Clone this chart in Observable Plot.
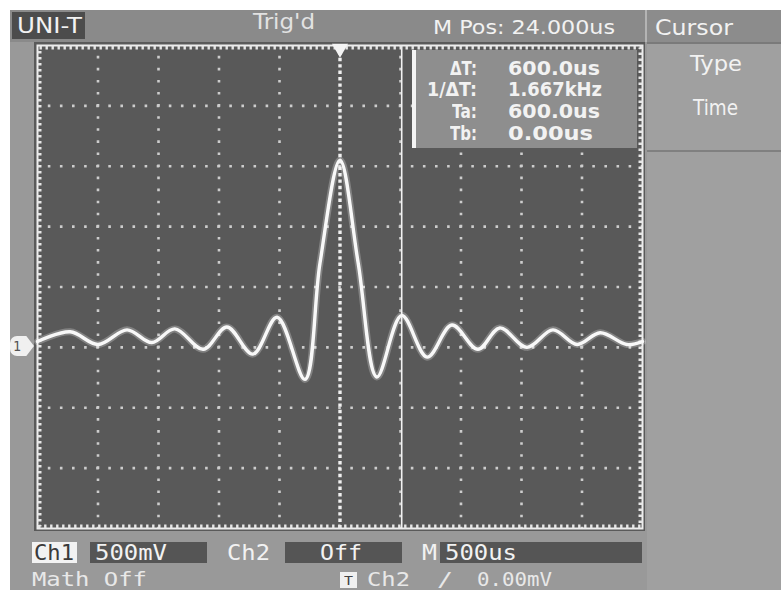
<!DOCTYPE html>
<html><head><meta charset="utf-8">
<script src="https://cdn.jsdelivr.net/npm/d3@7"></script>
<script src="https://cdn.jsdelivr.net/npm/@observablehq/plot@0.6"></script>
<style>
html,body{margin:0;padding:0;background:#fff;}
#scope{position:relative;width:781px;height:590px;overflow:hidden;background:#fff;}
.blk{position:absolute;}
.t{position:absolute;white-space:nowrap;font-family:"DejaVu Sans",sans-serif;transform-origin:0 50%;color:#f2f2f2;}
#plotwrap{position:absolute;}
</style></head><body>
<div id="scope"></div>
<script>
// ---- Channel 1 trace (time in µs, voltage in mV) ----
const timeUs = [-2500,-2230,-2000,-1760,-1555,-1365,-1130,-935,-720,-520,-290,-165,0,150,305,510,720,925,1140,1320,1545,1760,1960,2150,2370,2500];
const ch1mV  = [48,129,24,145,40,153,-16,169,-56,250,-265,700,1550,700,-245,265,-81,185,-16,161,0,145,24,121,24,48];
// ---- graticule (500 µs/div, 500 mV/div) ----
const gridTimeUs = [-2500,-2000,-1500,-1000,-500,0,500,1000,1500,2000,2500];
const gridVoltMv = [-1500,-1000,-500,0,500,1000,1500,2000,2500];
// ---- cursors / markers ----
const cursorTaUs = [510];
const cursorTbUs = [0];
const trigPosUs = [0];
// ---- readouts ----
const cursorLabels = ["ΔT:", "1/ΔT:", "Ta:", "Tb:"];
const cursorValues = ["600.0us", "1.667kHz", "600.0us", "0.00us"];
const menuItems = ["Type", "Time"];

const root = document.getElementById("scope");
function box(l,t,w,h,bg,extra){const d=document.createElement("div");d.className="blk";Object.assign(d.style,{left:l+"px",top:t+"px",width:w+"px",height:h+"px",background:bg},extra||{});root.appendChild(d);return d;}
function txt(s,l,cy,size,w,opt={}){
  const d=document.createElement("div");d.className="t";d.textContent=s;
  d.style.fontSize=size+"px";d.style.lineHeight=size+"px";d.style.top=(cy-size*0.48)+"px";d.style.left=l+"px";
  if(opt.color)d.style.color=opt.color; if(opt.weight)d.style.fontWeight=opt.weight; if(opt.family)d.style.fontFamily=opt.family;
  root.appendChild(d);
  const aw=d.getBoundingClientRect().width;
  if(opt.right) d.style.left=(l-w)+"px";
  d.style.transform=`scaleX(${w/aw})`;
  return d;
}
const MONO='"DejaVu Sans Mono",monospace';

// bezel
box(10,10,771,580,"#999999");
box(10,10,637,32,"#8a8a8a");          // top bar
box(12,12,73,27,"#4c4c4c");           // UNI-T
box(645,10,2,32,"#b4b4b4");           // separator
box(647,10,134,32,"#8c8c8c");         // Cursor header
box(647,42,134,548,"#a0a0a0");        // menu panel
box(647,42,134,2,"#7a7a7a");
box(647,150,134,2,"#808080");
box(34,42,611,489,"#5a5a5a");         // screen

// plot
const W=605,H=483,M=4;
const data=timeUs.map((t,i)=>({t,v:ch1mV[i]}));
const chart=Plot.plot({
  width:W+2*M,height:H+2*M,marginTop:M,marginBottom:M,marginLeft:M,marginRight:M,
  x:{domain:[-2500,2500],axis:null},
  y:{domain:[-1500,2500],axis:null},
  style:{background:"transparent",overflow:"visible"},
  marks:[
    Plot.frame({fill:"#595959"}),
    Plot.ruleX(gridTimeUs.slice(1,-1).filter(d=>d!==0),{stroke:"#cdcdcd",strokeWidth:2.6,strokeDasharray:`2.6,${(H/40-2.6).toFixed(3)}`,strokeDashoffset:1.3}),
    Plot.ruleY(gridVoltMv.slice(1,-1),{stroke:"#cdcdcd",strokeWidth:2.6,strokeDasharray:`2.6,${(W/50-2.6).toFixed(3)}`,strokeDashoffset:1.3}),
    Plot.ruleX(cursorTbUs,{stroke:"#f0f0f0",strokeWidth:3.4,strokeDasharray:"3.4,3"}),
    Plot.ruleX(cursorTaUs,{stroke:"#f2f2f2",strokeWidth:1.6}),
    Plot.frame({stroke:"#eeeeee",strokeWidth:2}),
    Plot.frame({stroke:"#e6e6e6",strokeWidth:4,strokeDasharray:"2.4,3.6",inset:2}),
    Plot.line(data,{x:"t",y:"v",curve:"catmull-rom",stroke:"#ffffff",strokeOpacity:0.25,strokeWidth:7}),
    Plot.line(data,{x:"t",y:"v",curve:"catmull-rom",stroke:"#f8f8f8",strokeWidth:3.4,strokeLinejoin:"round"}),
    Plot.dot(trigPosUs,{x:d=>d,y:()=>2500,symbol:"triangle",rotate:180,r:6,fill:"#f4f4f4",dy:3})
  ]
});
const pw=document.createElement("div");pw.id="plotwrap";pw.style.left=(37-M)+"px";pw.style.top=(45-M)+"px";pw.appendChild(chart);root.appendChild(pw);

// info box
box(412,50,225,98,"#8e8e8e",{borderLeft:"4px solid #f4f4f4",boxSizing:"border-box"});
const rowsY=[68,89,111,133];
const labW=[27,50,25,27], valW=[92,94,92,85];
cursorLabels.forEach((s,i)=>txt(s,477,rowsY[i],19,labW[i],{right:true,weight:"bold"}));
cursorValues.forEach((s,i)=>txt(s,508,rowsY[i],19,valW[i],{weight:"bold"}));

// top bar texts
txt("UNI-T",17,26,22,65);
txt("Trig'd",253,22,21,62,{color:"#e2e2e2"});
txt("M Pos: 24.000us",433,27,20,182);
txt("Cursor",655,28,21,78);
txt(menuItems[0],690,64,21,52);
txt(menuItems[1],693,108,21,45);

// ground marker "1"
box(10,336,24,20,"#f0f0f0",{clipPath:"polygon(0 0,68% 0,100% 50%,68% 100%,0 100%)",borderRadius:"7px 0 0 7px"});
txt("1",13,346,14,8,{color:"#555",family:MONO});

// bottom status
box(32,542,45,21,"#f2f2f2");
txt("Ch1",34,553,21,40,{color:"#3a3a3a",family:MONO});
box(90,542,117,21,"#555555");
txt("500mV",95,553,21,72,{family:MONO});
txt("Ch2",227,553,21,43,{family:MONO});
box(285,542,117,21,"#555555");
txt("Off",320,553,21,42,{family:MONO});
txt("M",422,553,21,15,{family:MONO});
box(440,542,202,21,"#555555");
txt("500us",445,553,21,72,{family:MONO});
txt("Math Off",32,579,19,115,{color:"#e8e8e8",family:MONO});
box(340,572,17,16,"#f0f0f0");
txt("T",344,580,13,9,{color:"#444",family:MONO});
txt("Ch2",367,579,19,43,{color:"#e8e8e8",family:MONO});
txt("/",437,579,19,16,{color:"#e8e8e8",family:MONO});
txt("0.00mV",477,579,19,75,{color:"#e8e8e8",family:MONO});
</script>
</body></html>
